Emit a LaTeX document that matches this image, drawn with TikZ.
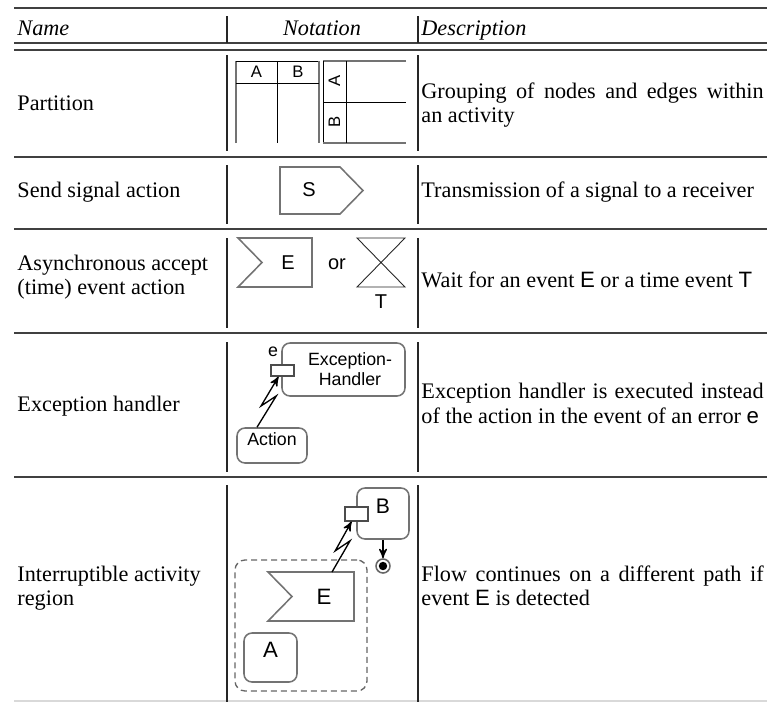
\documentclass[tikz,border=0pt]{standalone}
\usepackage{fontspec}
\setmainfont{Liberation Serif}
\setsansfont{Liberation Sans}
\usetikzlibrary{arrows,calc,fit,positioning}

\newlength{\descw}
\setlength{\descw}{154pt}

\begin{document}
\begin{tikzpicture}[x=0.45pt,y=-0.45pt,
	rule/.style={black!75,line width=0.9pt},
	colsep/.style={black!85,line width=0.7pt},
	txt/.style={anchor=base west,inner sep=0pt,font=\fontsize{10}{11.3}\selectfont},
	head/.style={txt,font=\fontsize{10}{11.3}\selectfont\itshape},
	sym/.style={inner sep=0pt,font=\sffamily\fontsize{9}{10}\selectfont},
	small/.style={sym,font=\sffamily\fontsize{7.5}{9}\selectfont},
	lane/.style={black!55,line width=1.1pt},
	shapeline/.style={draw=black!55,line width=0.7pt},
	act/.style={shapeline,rounded corners=3.6pt,inner sep=0pt,align=center,font=\sffamily\fontsize{8}{9.2}\selectfont},
	pinbox/.style={draw=black!70,fill=white,inner sep=0pt,line width=0.6pt},
	finalnode/.style={circle,draw=black!60,line width=0.7pt,inner sep=0pt,minimum size=6.3pt,
		path picture={\fill (path picture bounding box.center) circle (1.9pt);}},
	region/.style={draw=black!60,line width=0.6pt,dash pattern=on 2.7pt off 1.8pt,rounded corners=4.5pt,inner sep=0pt},
	flow/.style={->,>=stealth',semithick},
	zap/.style={->,>=stealth',semithick}]
\useasboundingbox (0,0) rectangle (767,702);

% table rules
\foreach \yy in {8,43,50,157,229,333,477}
	\draw[rule] (14,\yy) -- (767,\yy);
\draw[black!15,line width=0.9pt] (14,701) -- (767,701);
\foreach \ya/\yb in {16/43,55/151,165/224,238/328,342/472,485/702} {
	\draw[colsep] (227,\ya) -- (227,\yb);
	\draw[colsep] (418,\ya) -- (418,\yb);
}

% header
\node[head] (hname) at (17,35) {Name};
\node[head,anchor=base] (hnot) at (322,35) {Notation};
\node[head] (hdesc) at (421,35) {Description};

% first column
\node[txt] (nPart) at (17,110) {Partition};
\node[txt] (nSend) at (17,197) {Send signal action};
\node[txt] (nAcc1) at (17,270) {Asynchronous accept};
\node[txt] (nAcc2) at (17,294) {(time) event action};
\node[txt] (nExc) at (17,411) {Exception handler};
\node[txt] (nInt1) at (17,581) {Interruptible activity};
\node[txt] (nInt2) at (17,605) {region};

% last column
\node[txt] (dPart1) at (421,98) {\makebox[\descw][s]{Grouping of nodes and edges within}};
\node[txt] (dPart2) at (421,122) {an activity};
\node[txt] (dSend) at (421,197) {Transmission of a signal to a receiver};
\node[txt] (dAcc) at (421,287) {Wait for an event {\sffamily E} or a time event {\sffamily T}};
\node[txt] (dExc1) at (421,398) {\makebox[\descw][s]{Exception handler is executed instead}};
\node[txt] (dExc2) at (421,423) {of the action in the event of an error {\sffamily e}};
\node[txt] (dInt1) at (421,581) {\makebox[\descw][s]{Flow continues on a different path if}};
\node[txt] (dInt2) at (421,605) {event {\sffamily E} is detected};

% partitions, vertical
\draw[lane] (236,143) -- (236,61);
\draw[thin] (236,61) -- (319,61);
\draw[lane] (319,61) -- (319,143);
\draw[thin] (236,83) -- (319,83);
\draw[thin] (277,61) -- (277,143);
\node[small] (laneA) at (256.5,72) {A};
\node[small] (laneB) at (298,72) {B};
% partitions, horizontal
\draw[lane] (406,61) -- (323,61);
\draw[thin] (323,61) -- (323,143);
\draw[lane] (323,143) -- (406,143);
\draw[thin] (323,102) -- (406,102);
\draw[thin] (346,61) -- (346,143);
\node[small,rotate=90] (rowA) at (334.5,81) {A};
\node[small,rotate=90] (rowB) at (334.5,122) {B};

% send signal
\draw[shapeline] (280,167) -- (340,167) -- (363,190.5) -- (340,214) -- (280,214) -- cycle;
\node[sym] (sig) at (309,190) {S};

% accept event / time event
\draw[shapeline] (238,238) -- (312,238) -- (312,287) -- (238,287) -- (262,262.5) -- cycle;
\node[sym] (acc) at (288,263) {E};
\node[sym] (or) at (337,264) {or};
\draw[black!85,thin] (357,238) -- (405,238) -- (357,287) -- (405,287) -- cycle;
\node[sym] (tim) at (381,302) {T};

% exception handler
\node[act,fit={(282,343)(405,396)}] (handler) {};
\node[act,draw=none] (hlabel) at (350,369) {Exception-\\Handler};
\node[pinbox,fit={(271,365)(294,376)}] (pinEH) {};
\node[small,font=\sffamily\fontsize{8}{9}\selectfont] (err) at (273,352) {e};
\node[act,fit={(237,428)(307,463)}] (action) {Action};
\coordinate (z1) at ($(action.north)+(-15,0)$);
\coordinate (z2) at ($(pinEH.south)+(-4,0)$);
\draw[zap] (z1) -- ($(z1)!0.62!(z2)+(6,0)$) -- ($(z1)!0.42!(z2)+(-5,0)$) -- (z2);

% interruptible region
\node[region,fit={(235,560)(367,691)}] (irg) {};
\draw[shapeline] (268,572) -- (354,572) -- (354,621) -- (268,621) -- (292,596.5) -- cycle;
\node[sym,font=\sffamily\fontsize{10}{12}\selectfont] (accE) at (324,597) {E};
\node[act,fit={(244,633)(297,682)},font=\sffamily\fontsize{10}{12}\selectfont] (actA) {A};
\node[act,fit={(357,488)(409,539)},font=\sffamily\fontsize{9.5}{11}\selectfont] (actB) {B};
\node[pinbox,fit={(345,507)(368,521)}] (pinB) {};
\node[finalnode] (fin) at (383,566) {};
\draw[flow] (actB) -- (fin);
\coordinate (z3) at (332,572);
\coordinate (z4) at ($(pinB.south)+(-5,0)$);
\draw[zap] (z3) -- ($(z3)!0.62!(z4)+(6,0)$) -- ($(z3)!0.42!(z4)+(-5,0)$) -- (z4);

\end{tikzpicture}
\end{document}
